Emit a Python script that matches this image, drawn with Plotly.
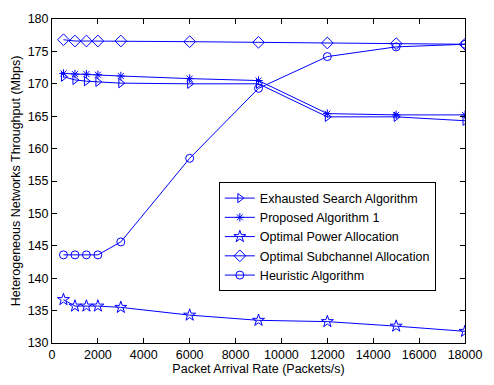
import plotly.graph_objects as go

# Packet arrival rates (Packets/s)
arrival_rate = [500, 1000, 1500, 2000, 3000, 6000, 9000, 12000, 15000, 18000]

# Throughput (Mbps) per scheme
exhausted_search = [171.1, 170.6, 170.4, 170.3, 170.1, 170.0, 170.0, 164.9, 164.9, 164.3]
proposed_alg1 = [171.6, 171.5, 171.5, 171.4, 171.2, 170.8, 170.5, 165.4, 165.2, 165.2]
optimal_power = [136.7, 135.7, 135.7, 135.7, 135.5, 134.3, 133.5, 133.3, 132.6, 131.8]
optimal_subchannel = [176.8, 176.6, 176.6, 176.6, 176.6, 176.5, 176.4, 176.3, 176.2, 176.1]
heuristic = [143.6, 143.6, 143.6, 143.6, 145.6, 158.5, 169.3, 174.2, 175.7, 176.1]

series = [
    ("Exhausted Search Algorithm", exhausted_search, "triangle-right-open", 8),
    ("Proposed Algorithm 1", proposed_alg1, "asterisk-open", 7),
    ("Optimal Power Allocation", optimal_power, "star-open", 9),
    ("Optimal Subchannel Allocation", optimal_subchannel, "diamond-open", 9),
    ("Heuristic Algorithm", heuristic, "circle-open", 8),
]

fig = go.Figure()
for name, values, symbol, msize in series:
    fig.add_trace(go.Scatter(
        x=arrival_rate, y=values, name=name, mode="lines+markers",
        line=dict(color="#0000ff", width=1),
        marker=dict(symbol=symbol, size=msize, color="#0000ff",
                    line=dict(color="#0000ff", width=1)),
    ))

axis_common = dict(
    showgrid=False, zeroline=False, showline=True, linecolor="black",
    linewidth=1, mirror="allticks", ticks="inside", ticklen=5,
    tickcolor="black", tickfont=dict(size=12.5, color="black"),
    tickformat="d", ticklabeloverflow="allow",
)

fig.update_layout(
    width=494, height=385,
    margin=dict(l=52, r=16, t=12, b=38),
    paper_bgcolor="white", plot_bgcolor="white",
    font=dict(family="Liberation Sans, Arial, sans-serif", size=12, color="black"),
    showlegend=True,
    legend=dict(
        x=0.404, y=0.4955, xanchor="left", yanchor="top",
        bordercolor="black", borderwidth=1, bgcolor="white",
        font=dict(size=12.5, color="black"),
        tracegroupgap=0, itemsizing="trace",
    ),
    xaxis=dict(range=[0, 18000], tick0=0, dtick=2000,
               title=dict(text="Packet Arrival Rate (Packets/s)", standoff=2,
                          font=dict(size=12.5)),
               **axis_common),
    yaxis=dict(range=[130, 180], tick0=130, dtick=5,
               title=dict(text="Heterogeneous Networks Throughput (Mbps)", standoff=4,
                          font=dict(size=12.5)),
               **axis_common),
)

fig.write_html("out.html")
